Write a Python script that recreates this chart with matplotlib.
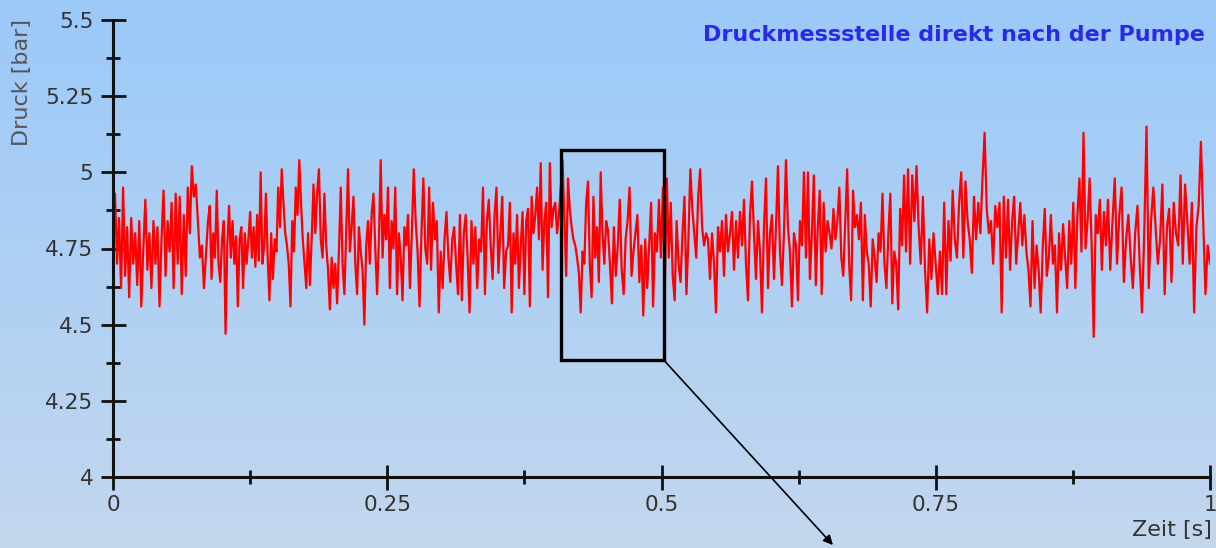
import numpy as np
import matplotlib.pyplot as plt
from matplotlib.colors import LinearSegmentedColormap
from matplotlib.patches import Rectangle

# pressure signal, one list per ~0.09 s slice
seg_edges = [0.0, 0.0866, 0.1778, 0.2689, 0.3601, 0.4512, 0.5424,
             0.6335, 0.7247, 0.8159, 0.9070, 1.0]

seg1 = [4.80, 4.93, 4.70, 4.85, 4.62, 4.95, 4.66, 4.82, 4.59, 4.85, 4.70, 4.80, 4.63, 4.84, 4.56, 4.75,
        4.91, 4.68, 4.80, 4.62, 4.84, 4.70, 4.82, 4.56, 4.78, 4.94, 4.66, 4.84, 4.74, 4.90, 4.62, 4.93,
        4.70, 4.92, 4.60, 4.86, 4.66, 4.95, 4.80, 5.02, 4.92, 4.96, 4.84, 4.72, 4.76, 4.62, 4.73]
seg2 = [4.84, 4.89, 4.65, 4.80, 4.72, 4.94, 4.70, 4.64, 4.78, 4.84, 4.47, 4.76, 4.89, 4.72, 4.84, 4.70,
        4.79, 4.56, 4.78, 4.82, 4.62, 4.80, 4.70, 4.78, 4.87, 4.72, 4.82, 4.69, 4.86, 4.71, 5.00, 4.70,
        4.76, 4.93, 4.72, 4.58, 4.80, 4.65, 4.78, 4.74, 4.95, 4.82, 5.01, 4.90, 4.80, 4.76, 4.70, 4.56,
        4.84, 4.74, 4.95, 4.86, 5.04, 4.90, 4.78, 4.70, 4.62]
seg3 = [4.80, 4.63, 4.78, 4.96, 4.80, 4.93, 5.01, 4.78, 4.72, 4.93, 4.76, 4.68, 4.55, 4.72, 4.62, 4.70,
        4.57, 4.74, 4.95, 4.70, 4.60, 4.80, 5.01, 4.74, 4.82, 4.92, 4.70, 4.60, 4.82, 4.74, 4.68, 4.50,
        4.76, 4.84, 4.70, 4.86, 4.93, 4.75, 4.60, 4.78, 5.04, 4.72, 4.86, 4.78, 4.95, 4.62, 4.84, 4.75,
        4.95, 4.60, 4.80, 4.72, 4.58, 4.82, 4.76]
seg4 = [4.86, 4.62, 4.80, 5.01, 4.84, 4.74, 4.56, 4.80, 4.98, 4.75, 4.70, 4.95, 4.68, 4.90, 4.78, 4.84,
        4.54, 4.74, 4.62, 4.78, 4.87, 4.72, 4.64, 4.78, 4.82, 4.70, 4.60, 4.86, 4.58, 4.80, 4.86, 4.72,
        4.54, 4.84, 4.70, 4.82, 4.62, 4.78, 4.74, 4.95, 4.60, 4.84, 4.91, 4.76, 4.65, 4.86, 4.95, 4.67,
        4.80, 4.92, 4.62, 4.74]
seg5 = [4.76, 4.90, 4.54, 4.80, 4.70, 4.86, 4.62, 4.76, 4.87, 4.60, 4.84, 4.88, 4.56, 4.92, 4.80, 4.86,
        4.95, 4.78, 5.03, 4.68, 4.84, 4.90, 4.59, 5.03, 4.82, 4.88, 4.90, 4.80, 4.86, 4.95, 5.04, 4.85,
        4.66, 4.98, 4.88, 4.82, 4.78, 4.76, 4.72, 4.67, 4.54, 4.74, 4.70, 4.90, 4.97, 4.70, 4.59, 4.92,
        4.72, 4.82, 4.64, 5.00, 4.80, 4.70, 4.84]
seg6 = [4.81, 4.70, 4.57, 4.82, 4.66, 4.76, 4.91, 4.68, 4.60, 4.78, 4.84, 4.95, 4.66, 4.74, 4.80, 4.86,
        4.64, 4.76, 4.53, 4.78, 4.62, 4.76, 4.90, 4.56, 4.80, 4.74, 4.91, 4.72, 4.95, 4.62, 4.98, 4.72,
        4.90, 4.66, 4.58, 4.84, 4.70, 4.64, 4.80, 4.92, 4.60, 4.78, 5.01, 4.88, 4.80, 4.72, 4.92, 5.01,
        4.82, 4.76, 4.80]
seg7 = [4.78, 4.65, 4.80, 4.70, 4.54, 4.82, 4.74, 4.84, 4.66, 4.86, 4.74, 4.80, 4.87, 4.68, 4.84, 4.72,
        4.87, 4.76, 4.91, 4.70, 4.58, 4.86, 4.97, 4.80, 4.65, 4.84, 4.74, 4.54, 4.82, 4.98, 4.62, 4.80,
        4.86, 4.65, 4.82, 5.02, 4.74, 4.63, 4.80, 5.04, 4.82, 4.74, 4.56, 4.80, 4.76, 4.58, 4.84, 4.76,
        5.00, 4.72]
seg8 = [5.00, 4.65, 4.80, 4.99, 4.63, 4.82, 4.94, 4.60, 4.90, 4.74, 4.84, 4.80, 4.75, 4.88, 4.78, 4.84,
        4.95, 4.72, 4.66, 4.84, 5.01, 4.70, 4.58, 4.94, 4.82, 4.86, 4.78, 4.90, 4.58, 4.86, 4.74, 4.70,
        4.56, 4.78, 4.72, 4.64, 4.80, 4.74, 4.93, 4.70, 4.62, 4.80, 4.93, 4.57, 4.74, 4.70, 4.55, 4.88,
        4.76, 4.99, 4.74]
seg9 = [5.01, 4.70, 4.99, 4.84, 5.02, 4.82, 4.70, 4.92, 4.68, 4.54, 4.78, 4.65, 4.80, 4.70, 4.60, 4.74,
        4.60, 4.90, 4.60, 4.84, 4.71, 4.94, 4.78, 4.72, 4.90, 5.00, 4.72, 4.97, 4.84, 4.78, 4.67, 4.92,
        4.78, 4.90, 4.80, 4.98, 5.13, 4.88, 4.80, 4.84, 4.70, 4.89, 4.82, 4.90, 4.54, 4.92, 4.72]
seg10 = [4.91, 4.68, 4.84, 4.92, 4.70, 4.80, 4.90, 4.76, 4.86, 4.74, 4.68, 4.56, 4.84, 4.62, 4.76, 4.68,
         4.54, 4.75, 4.88, 4.66, 4.72, 4.86, 4.70, 4.76, 4.54, 4.80, 4.68, 4.83, 4.72, 4.62, 4.84, 4.70,
         4.90, 4.62, 4.86, 4.98, 4.74, 5.13, 4.75, 4.84, 4.98, 4.76, 4.46, 4.86, 4.80, 4.91, 4.68, 4.87,
         4.76]
seg11 = [4.91, 4.68, 4.84, 4.98, 4.70, 4.86, 4.95, 4.64, 4.78, 4.86, 4.72, 4.62, 4.80, 4.89, 4.70, 4.54,
         4.80, 5.15, 4.62, 4.84, 4.95, 4.82, 4.70, 4.78, 4.96, 4.60, 4.82, 4.88, 4.64, 4.90, 4.80, 4.76,
         4.99, 4.70, 4.96, 4.84, 4.70, 4.90, 4.54, 4.82, 4.89, 5.10, 4.84, 4.60, 4.76, 4.70]

segments = [seg1, seg2, seg3, seg4, seg5, seg6, seg7, seg8, seg9, seg10, seg11]

# zoom box (time range, pressure range) and arrow tip
box_t = (0.408, 0.502)
box_p = (4.384, 5.073)
arrow_tip = (0.658, 3.77)

title = "Druckmessstelle direkt nach der Pumpe"

t = []
p = []
for i, s in enumerate(segments):
    t.extend(np.linspace(seg_edges[i], seg_edges[i + 1], len(s), endpoint=(i == len(segments) - 1)))
    p.extend(s)

plt.rcParams['font.family'] = ['DejaVu Sans']

fig = plt.figure(figsize=(12.16, 5.48), dpi=100)

# background gradient
bg = fig.add_axes([0, 0, 1, 1])
cmap = LinearSegmentedColormap.from_list("bg", ["#9bc9f9", "#c3d7ee"])
bg.imshow(np.linspace(0, 1, 256).reshape(-1, 1), aspect="auto", cmap=cmap, extent=[0, 1, 0, 1])
bg.set_axis_off()

ax = fig.add_axes([113 / 1216, 1 - 477 / 548, 1097 / 1216, 457 / 548])
ax.set_facecolor("none")
ax.plot(t, p, color="#ff0000", lw=1.6)

ax.set_xlim(0, 1)
ax.set_ylim(4, 5.5)
ax.set_xticks([0, 0.25, 0.5, 0.75, 1])
ax.set_xticklabels(["0", "0.25", "0.5", "0.75", "1"])
ax.set_xticks([0.125, 0.375, 0.625, 0.875], minor=True)
ax.set_yticks([4, 4.25, 4.5, 4.75, 5, 5.25, 5.5])
ax.set_yticklabels(["4", "4.25", "4.5", "4.75", "5", "5.25", "5.5"])
ax.set_yticks([4.125, 4.375, 4.625, 4.875, 5.125, 5.375], minor=True)

for side in ["top", "right"]:
    ax.spines[side].set_visible(False)
for side in ["left", "bottom"]:
    ax.spines[side].set_linewidth(2.2)
    ax.spines[side].set_color("#111111")

ax.tick_params(which="major", direction="inout", length=18, width=2.0, color="#111111",
               labelsize=15.5, labelcolor="#333333")
ax.tick_params(which="minor", direction="inout", length=10, width=2.0, color="#111111")
ax.tick_params(axis="x", which="major", pad=4)
ax.tick_params(axis="y", which="major", pad=5)

ax.set_ylabel("Druck [bar]", fontsize=16, color="#555555")
ax.yaxis.set_label_coords(-0.074, 0.864)
fig.text(1212 / 1216, 1 - 530 / 548, "Zeit [s]", ha="right", va="center", fontsize=16, color="#333333")
fig.text(1205 / 1216, 1 - 35 / 548, title, ha="right", va="center", fontsize=16,
         color="#2a2ae6", fontweight="bold")

ax.add_patch(Rectangle((box_t[0], box_p[0]), box_t[1] - box_t[0], box_p[1] - box_p[0],
                       fill=False, ec="black", lw=2.4, zorder=5))
ax.annotate("", xy=arrow_tip, xytext=(box_t[1], box_p[0]),
            arrowprops=dict(arrowstyle="-|>", color="black", lw=1.2, mutation_scale=14),
            annotation_clip=False, zorder=5)

fig.savefig("out.png", dpi=100)
